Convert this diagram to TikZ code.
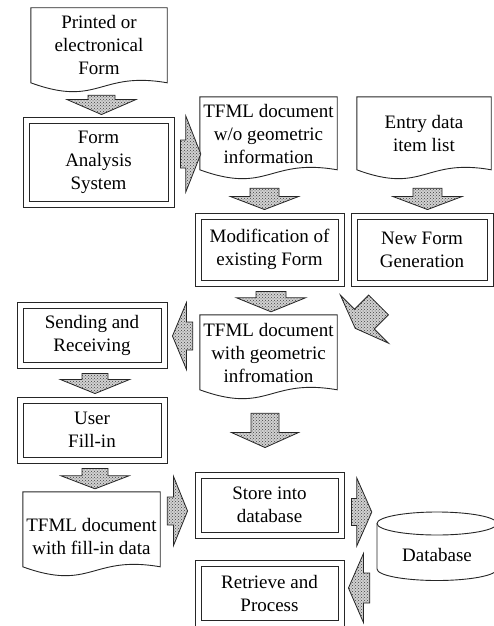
\documentclass[tikz,border=0pt]{standalone}
\usepackage{fontspec}
\setmainfont{Liberation Serif}
\usetikzlibrary{calc,patterns}

\tikzset{
  txt/.style={font=\fontsize{19pt}{23pt}\selectfont, align=center, inner sep=0pt},
  procbox/.style={txt, draw=black!85, line width=0.9pt},
  docline/.style={draw=black!85, line width=0.9pt},
  blk/.style n args={3}{draw=black!85, line width=0.8pt, preaction={fill=black!18},
    pattern=crosshatch dots, pattern color=black!75,
    to path={($(\tikztostart)!#1!90:(\tikztotarget)$)
      -- ($(\tikztotarget)!#3!(\tikztostart)!#1!90:(\tikztotarget)$)
      -- ($(\tikztotarget)!#3!(\tikztostart)!#2!90:(\tikztotarget)$)
      -- (\tikztotarget)
      -- ($(\tikztotarget)!#3!(\tikztostart)!#2!-90:(\tikztotarget)$)
      -- ($(\tikztotarget)!#3!(\tikztostart)!#1!-90:(\tikztotarget)$)
      -- ($(\tikztostart)!#1!-90:(\tikztotarget)$) -- cycle}}
}
% document outline with wavy bottom
\newcommand{\docshape}[2]{%
  \draw[docline] (#1.north west) -- (#1.north east) -- ++(0,#2)
    .. controls ($(#1.north)+(0,#2-12)$) and ($(#1.north)+(0,#2+25)$)
    .. ($(#1.north west)+(0,#2)$) -- cycle;}
% inner frame of a process box
\newcommand{\innerbox}[1]{%
  \draw[docline] ($(#1.north west)+(6.5,6.5)$) rectangle ($(#1.south east)+(-6.5,-6.5)$);}

\begin{document}
\begin{tikzpicture}[x=1pt,y=-1pt]
\useasboundingbox (0,0) rectangle (494,626);

% documents
\node[txt, minimum width=136pt, minimum height=75pt] (doc1) at (99,45.5) {Printed or\\electronical\\Form};
\node[txt, minimum width=137pt, minimum height=73pt] (doc2) at (268.5,133.5) {TFML document\\w/o geometric\\information};
\node[txt, minimum width=134pt, minimum height=73pt] (doc3) at (424,133.5) {Entry data\\item list};
\node[txt, minimum width=137pt, minimum height=75pt] (doc4) at (268.5,352.5) {TFML document\\with geometric\\infromation};
\node[txt, minimum width=137pt, minimum height=89pt] (doc5) at (91.5,536.5) {TFML document\\with fill-in data};
\docshape{doc1}{75}
\docshape{doc2}{73}
\docshape{doc3}{73}
\docshape{doc4}{75}
\docshape{doc5}{75}

% processes
\node[procbox, minimum width=151pt, minimum height=90pt] (fas) at (98.5,162) {Form\\Analysis\\System};
\node[procbox, minimum width=149pt, minimum height=73pt] (mod) at (269.5,249.5) {Modification of\\existing Form};
\node[procbox, minimum width=142pt, minimum height=73pt] (nfg) at (422,249.5) {New Form\\Generation};
\node[procbox, minimum width=150pt, minimum height=66pt] (sar) at (92,335) {Sending and\\Receiving};
\node[procbox, minimum width=150pt, minimum height=66pt] (ufi) at (92,430) {User\\Fill-in};
\node[procbox, minimum width=149pt, minimum height=66pt] (store) at (269.5,505) {Store into\\database};
\node[procbox, minimum width=149pt, minimum height=66pt] (rap) at (269.5,593) {Retrieve and\\Process};
\innerbox{fas}
\innerbox{mod}
\innerbox{nfg}
\innerbox{sar}
\innerbox{ufi}
\innerbox{store}
\innerbox{rap}

% database
\node[txt, minimum width=120pt] (db) at (437,555) {Database};
\draw[docline] ($(db.center)+(-60,-31.5)$) -- ($(db.center)+(-60,14)$)
  arc[start angle=180, end angle=360, x radius=60pt, y radius=11.5pt] -- ($(db.center)+(60,-31.5)$);
\draw[docline] ($(db.center)+(0,-31.5)$) ellipse [x radius=60pt, y radius=11.5pt];

% arrow ends
\coordinate (a1s) at ($(doc1.south)+(2.5,12)$);
\coordinate (a1e) at ($(fas.north)+(3,-2)$);
\coordinate (a2s) at ($(fas.east)+(6,-8)$);
\coordinate (a2e) at ($(doc2.west)+(1,20.5)$);
\coordinate (a3s) at ($(doc2.south)+(-4,18)$);
\coordinate (a3e) at ($(mod.north)+(-5,-3)$);
\coordinate (a4s) at ($(doc3.south)+(3.5,18)$);
\coordinate (a4e) at ($(nfg.north)+(5.5,-3)$);
\coordinate (a5s) at ($(mod.south)+(1.5,5)$);
\coordinate (a5e) at ($(doc4.north)+(2.5,-3)$);
\coordinate (a6s) at ($(doc4.south)+(-3.5,23)$);
\coordinate (a6e) at ($(store.north)+(-4.5,-24)$);
\coordinate (a7s) at ($(doc4.west)+(-7,-16.5)$);
\coordinate (a7e) at ($(sar.east)+(5,1)$);
\coordinate (a8s) at ($(sar.south)+(3,5)$);
\coordinate (a8e) at ($(ufi.north)+(3,-3)$);
\coordinate (a9s) at ($(ufi.south)+(3,5)$);
\coordinate (a9e) at ($(doc5.north)+(3.5,-3)$);
\coordinate (a10s) at ($(doc5.east)+(7,-25.5)$);
\coordinate (a10e) at ($(store.west)+(-7,6)$);
\coordinate (a11s) at ($(store.east)+(7,7)$);
\coordinate (a11e) at ($(db.west)+(-5,-43)$);
\coordinate (a12s) at ($(db.west)+(-7,33)$);
\coordinate (a12e) at ($(rap.east)+(4,-5)$);
\coordinate (a13s) at ($(nfg.south west)+(28,18.5)$);
\coordinate (a13e) at ($(doc4.north east)+(18,13.5)$);

% block arrows
\draw[blk={13.5pt}{34.5pt}{15pt}] (a1s) to (a1e);
\draw[blk={14pt}{38pt}{15pt}] (a2s) to (a2e);
\draw[blk={14.5pt}{34pt}{13pt}] (a3s) to (a3e);
\draw[blk={14.5pt}{34.5pt}{13pt}] (a4s) to (a4e);
\draw[blk={15pt}{34.5pt}{14pt}] (a5s) to (a5e);
\draw[blk={14pt}{33.5pt}{15pt}] (a6s) to (a6e);
\draw[blk={14pt}{33.5pt}{14pt}] (a7s) to (a7e);
\draw[blk={13pt}{34.5pt}{14pt}] (a8s) to (a8e);
\draw[blk={13pt}{34pt}{13pt}] (a9s) to (a9e);
\draw[blk={14pt}{34.5pt}{14pt}] (a10s) to (a10e);
\draw[blk={13.5pt}{34pt}{15pt}] (a11s) to (a11e);
\draw[blk={15pt}{34.5pt}{15pt}] (a12s) to (a12e);
\draw[blk={14pt}{34pt}{13pt}] (a13s) to (a13e);
\end{tikzpicture}
\end{document}
